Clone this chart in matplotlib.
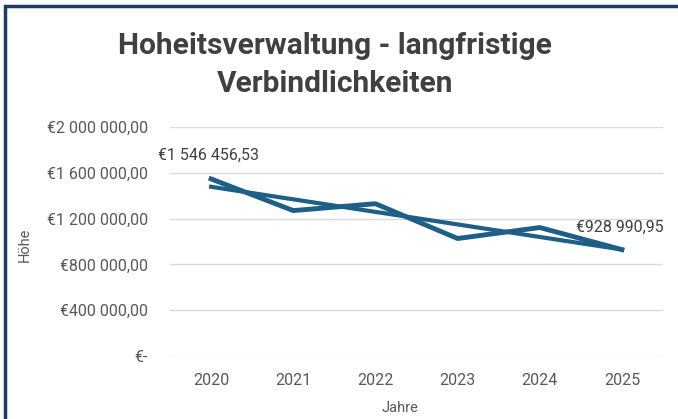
import matplotlib.pyplot as plt
import numpy as np
from matplotlib.patches import Rectangle
from matplotlib.ticker import FuncFormatter

years = ['2020', '2021', '2022', '2023', '2024', '2025']
values = [1546456.53, 1270000, 1330000, 1026000, 1122000, 928990.95]
yticks = [0, 400000, 800000, 1200000, 1600000, 2000000]

LINE = '#1d5f86'
TEXT = '#595959'


def euro(v, pos=None):
    if v == 0:
        return '€-'
    s = f'{v:,.2f}'.replace(',', ' ').replace('.', ',')
    return '€' + s


plt.rcParams['font.family'] = ['Roboto', 'DejaVu Sans']

fig = plt.figure(figsize=(6.78, 4.19), dpi=100)
ax = fig.add_axes([170 / 678, 1 - 356 / 419, (663 - 170) / 678, (356 - 127) / 419])

x = np.arange(len(years))
ax.plot(x, values, color=LINE, lw=3.5, solid_joinstyle='round', zorder=3)

# linear trend line as in the original
k, b = np.polyfit(x, values, 1)
ax.plot(x, k * x + b, color=LINE, lw=3.0, zorder=2)

ax.set_xlim(-0.5, len(years) - 0.5)
ax.set_ylim(0, 2000000)
ax.set_yticks(yticks)
ax.yaxis.set_major_formatter(FuncFormatter(euro))
ax.set_xticks(x)
ax.set_xticklabels(years)
ax.grid(axis='y', color='#d9d9d9', lw=1)
ax.set_axisbelow(True)
for s in ax.spines.values():
    s.set_visible(False)
ax.tick_params(length=0, colors=TEXT, labelsize=11.5)
ax.tick_params(axis='y', pad=16)
ax.tick_params(axis='x', pad=12)

ax.annotate(euro(values[0]), (x[0], values[0]), xytext=(-38, 13.5),
            textcoords='offset points', fontsize=11.5, color='#404040')
ax.annotate(euro(values[-1]), (x[-1], values[-1]), xytext=(-33, 13),
            textcoords='offset points', fontsize=11.5, color='#404040')

fig.text(25 / 678, 1 - 245 / 419, 'Höhe', rotation=90, ha='center', va='center',
         fontsize=10.5, color=TEXT)
fig.text(400 / 678, 1 - 408 / 419, 'Jahre', ha='center', va='center',
         fontsize=10.5, color=TEXT)
fig.text(335 / 678, 1 - 65 / 419, 'Hoheitsverwaltung - langfristige\nVerbindlichkeiten',
         ha='center', va='center', fontsize=21.5, fontweight='bold', color='#404040',
         linespacing=1.45)

fig.patches.append(Rectangle((5 / 678, -0.05), 1.1, 1 - 6 / 419 + 0.05,
                             transform=fig.transFigure, fill=False,
                             edgecolor='#1f3b63', lw=2.5))

fig.savefig('out.png', dpi=100)
